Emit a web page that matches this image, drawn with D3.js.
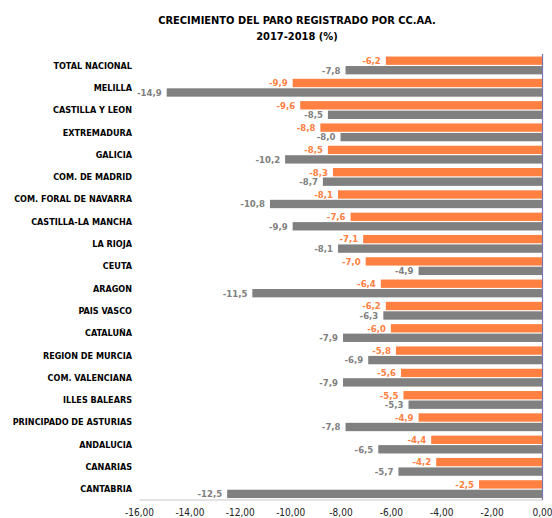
<!DOCTYPE html>
<html>
<head>
<meta charset="utf-8">
<script src="https://cdn.jsdelivr.net/npm/d3@7"></script>
<style>
  html, body { margin: 0; padding: 0; background: #ffffff; }
  svg { display: block; }
</style>
</head>
<body>
<svg id="chart" width="552" height="518"></svg>
<script>
const titleLines = ["CRECIMIENTO  DEL PARO REGISTRADO POR CC.AA.", "2017-2018 (%)"];
const categories = ["TOTAL NACIONAL", "MELILLA", "CASTILLA Y LEON", "EXTREMADURA", "GALICIA",
  "COM. DE MADRID", "COM. FORAL DE NAVARRA", "CASTILLA-LA MANCHA", "LA RIOJA", "CEUTA",
  "ARAGON", "PAIS VASCO", "CATALUÑA", "REGION DE MURCIA", "COM. VALENCIANA",
  "ILLES BALEARS", "PRINCIPADO DE ASTURIAS", "ANDALUCIA", "CANARIAS", "CANTABRIA"];
const series2018 = [-6.2, -9.9, -9.6, -8.8, -8.5, -8.3, -8.1, -7.6, -7.1, -7.0,
  -6.4, -6.2, -6.0, -5.8, -5.6, -5.5, -4.9, -4.4, -4.2, -2.5];
const series2017 = [-7.8, -14.9, -8.5, -8.0, -10.2, -8.7, -10.8, -9.9, -8.1, -4.9,
  -11.5, -6.3, -7.9, -6.9, -7.9, -5.3, -7.8, -6.5, -5.7, -12.5];
const seriesNames = ["2018", "2017"];
const seriesColors = ["#ff8040", "#808080"];
const tickValues = [-16, -14, -12, -10, -8, -6, -4, -2, 0];

const svg = d3.select("#chart");
const fontC = "'DejaVu Sans Condensed', 'DejaVu Sans', sans-serif";

const x = d3.scaleLinear().domain([-16, 0]).range([139, 542]);
const y = d3.scaleBand().domain(categories).range([54.3, 500.3]).paddingInner(0.2).paddingOuter(0.1);
const ys = d3.scaleBand().domain(seriesNames).range([0, y.bandwidth()]).paddingInner(0.12);

// Title
svg.append("g").selectAll("text").data(titleLines).join("text")
  .attr("x", 297).attr("y", (d, i) => 24 + i * 16)
  .attr("text-anchor", "middle")
  .attr("font-family", fontC).attr("font-weight", "bold").attr("font-size", 11)
  .attr("fill", "#000").text(d => d);

const data = [];
categories.forEach((c, i) => {
  data.push({cat: c, s: seriesNames[0], v: series2018[i], col: seriesColors[0]});
  data.push({cat: c, s: seriesNames[1], v: series2017[i], col: seriesColors[1]});
});

// Bars
svg.append("g").selectAll("rect").data(data).join("rect")
  .attr("x", d => x(d.v))
  .attr("width", d => x(0) - x(d.v))
  .attr("y", d => y(d.cat) + ys(d.s))
  .attr("height", ys.bandwidth())
  .attr("fill", d => d.col);

// Data labels
const fmt = v => d3.format(".1f")(v).replace("−", "-").replace(".", ",");
svg.append("g").selectAll("text").data(data).join("text")
  .attr("x", d => x(d.v) - 5)
  .attr("y", d => y(d.cat) + ys(d.s) + ys.bandwidth() / 2)
  .attr("dy", "0.35em")
  .attr("text-anchor", "end")
  .attr("font-family", fontC).attr("font-weight", "bold").attr("font-size", 9.5)
  .attr("fill", d => d.col)
  .text(d => fmt(d.v));

// Category labels
svg.append("g").selectAll("text").data(categories).join("text")
  .attr("x", 132)
  .attr("y", d => y(d) + y.bandwidth() / 2)
  .attr("dy", "0.35em")
  .attr("text-anchor", "end")
  .attr("font-family", fontC).attr("font-weight", "bold").attr("font-size", 9)
  .attr("fill", "#000")
  .text(d => d);

// Bottom axis
const xAxis = d3.axisBottom(x).tickValues(tickValues).tickSize(0).tickPadding(9)
  .tickFormat(d => d3.format(".2f")(d).replace("−", "-").replace(".", ","));
const ax = svg.append("g").attr("transform", "translate(0,499.5)").call(xAxis);
ax.select(".domain").attr("stroke", "#c8c8c8").attr("stroke-width", 1);
ax.selectAll("text").attr("font-family", fontC).attr("font-size", 10).attr("fill", "#222");

// Vertical zero line
svg.append("line")
  .attr("x1", x(0) + 0.5).attr("x2", x(0) + 0.5)
  .attr("y1", 54).attr("y2", 500)
  .attr("stroke", "#7a76b0").attr("stroke-width", 1.2);
</script>
</body>
</html>
